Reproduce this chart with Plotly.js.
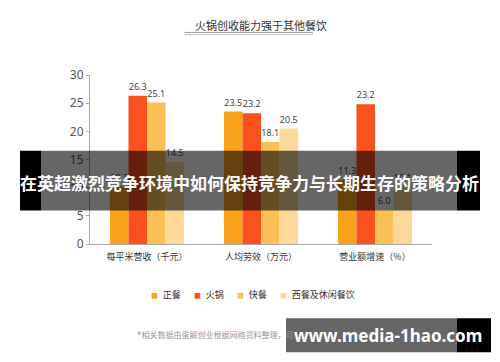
<!DOCTYPE html>
<html>
<head>
<meta charset="utf-8">
<script src="https://cdn.plot.ly/plotly-3.0.1.min.js"></script>
<style>html,body{margin:0;padding:0;background:#fff}#chart{width:500px;height:362px}</style>
</head>
<body>
<div id="chart"></div>
<script>
// ---- data ----
const categories = ['每平米营收（千元）', '人均劳效（万元）', '营业额增速（%）'];
const seriesNames = ['正餐', '火锅', '快餐', '西餐及休闲餐饮'];
const zhengcan = [10.2, 23.5, 11.3];
const huoguo = [26.3, 23.2, 24.8];
const kuaican = [25.1, 18.1, 6.0];
const xican = [14.5, 20.5, 10.1];
const zhengcanLabels = ['10.2', '23.5', '11.3'];
const huoguoLabels = ['26.3', '23.2', '23.2'];
const kuaicanLabels = ['25.1', '18.1', '6.0'];
const xicanLabels = ['14.5', '20.5', '10.1'];
const yTicks = [0, 5, 10, 15, 20, 25, 30];
const chartTitle = '火锅创收能力强于其他餐饮';
const sourceNote = '*相关数据由蛋解创业根据网络资料整理，可';
const bannerText = '在英超激烈竞争环境中如何保持竞争力与长期生存的策略分析';
const watermark = 'www.media-1hao.com';

// ---- styling ----
const colors = ['#F9A31B', '#F9521E', '#FBBF57', '#FCD99A'];
const valueSets = [zhengcan, huoguo, kuaican, xican];
const labelSets = [zhengcanLabels, huoguoLabels, kuaicanLabels, xicanLabels];
const FONT = 'Noto Sans, Noto Sans CJK SC, sans-serif';

const W = 500, H = 362;
const m = {l: 90, r: 68, t: 75, b: 117.5};
const pw = W - m.l - m.r, ph = H - m.t - m.b;
const px = x => (x - m.l) / pw;
const py = y => (H - m.b - y) / ph;

const traces = seriesNames.map((name, i) => ({
  type: 'bar',
  name: name,
  x: categories,
  y: valueSets[i],
  text: labelSets[i],
  textposition: 'outside',
  constraintext: 'none',
  cliponaxis: false,
  textfont: {family: FONT, size: 9, color: '#444'},
  marker: {color: colors[i], line: {width: 0}},
  showlegend: false,
  hoverinfo: 'none'
}));

const legendX = [148.5, 191.5, 234.5, 278];
const annotations = seriesNames.map((name, i) => ({
  xref: 'paper', yref: 'paper',
  x: px(legendX[i]), y: py(295),
  xanchor: 'left', yanchor: 'middle',
  showarrow: false,
  text: '<span style="color:' + colors[i] + ';font-size:7px">■</span>  ' + name,
  font: {family: FONT, size: 9, color: '#333'}
}));
annotations.push({
  xref: 'paper', yref: 'paper', x: px(135), y: py(335),
  xanchor: 'left', yanchor: 'middle', showarrow: false,
  text: sourceNote, font: {family: FONT, size: 8, color: '#999'}
});
annotations.push({
  xref: 'paper', yref: 'paper', x: px(249.5), y: py(183),
  xanchor: 'center', yanchor: 'middle', showarrow: false,
  text: '<b>' + bannerText + '</b>', font: {family: 'Noto Sans CJK SC, sans-serif', size: 17, color: '#fff'}
});
annotations.push({
  xref: 'paper', yref: 'paper', x: px(387.5), y: py(336),
  xanchor: 'center', yanchor: 'middle', showarrow: false,
  text: '<b>' + watermark + '</b>', font: {family: 'Noto Sans, sans-serif', size: 17, color: '#fff'}
});

const rect = (x0, x1, y0, y1, fill) => ({
  type: 'rect', xref: 'paper', yref: 'paper', layer: 'above',
  x0: px(x0), x1: px(x1), y0: py(y1), y1: py(y0),
  fillcolor: fill, line: {width: 0}
});
const hline = (x0, x1, y, c, w) => ({
  type: 'line', xref: 'paper', yref: 'paper', layer: 'above',
  x0: px(x0), x1: px(x1), y0: py(y), y1: py(y), line: {color: c, width: w}
});
const shapes = [
  hline(185, 313, 32.3, '#999', 1),
  hline(185, 313, 34.5, '#bbb', 1),
  rect(41, 457, 151, 211, 'rgba(0,0,0,0.6)'),
  rect(20, 41, 151, 211, '#000'),
  rect(457, 480, 151, 211, '#000'),
  rect(286, 457, 319, 353, 'rgba(0,0,0,0.6)'),
  rect(457, 491, 319, 353, '#000')
];

const layout = {
  width: W, height: H,
  margin: m,
  paper_bgcolor: '#fff', plot_bgcolor: '#fff',
  font: {family: FONT, color: '#333'},
  title: {text: chartTitle, x: 0.5, xref: 'paper', xanchor: 'center', y: 1 - 26 / H, yanchor: 'middle',
          font: {family: 'Noto Sans CJK SC, sans-serif', size: 11, color: '#333'}},
  barmode: 'group', bargap: 0.35, bargroupgap: 0,
  showlegend: false,
  xaxis: {type: 'category', showline: true, linecolor: '#aaa', linewidth: 1, ticks: '', ticklabelstandoff: 4,
          showgrid: false, zeroline: false, tickfont: {family: 'Noto Sans CJK SC, sans-serif', size: 9, color: '#333'}},
  yaxis: {range: [0, 30], tickvals: yTicks, showline: true, linecolor: '#aaa', linewidth: 1,
          ticks: 'outside', ticklen: 3, tickcolor: '#aaa', showgrid: false, zeroline: false,
          tickfont: {family: FONT, size: 12, color: '#555'}},
  annotations: annotations,
  shapes: shapes
};

Plotly.newPlot('chart', traces, layout, {displayModeBar: false, staticPlot: true});
</script>
</body>
</html>
